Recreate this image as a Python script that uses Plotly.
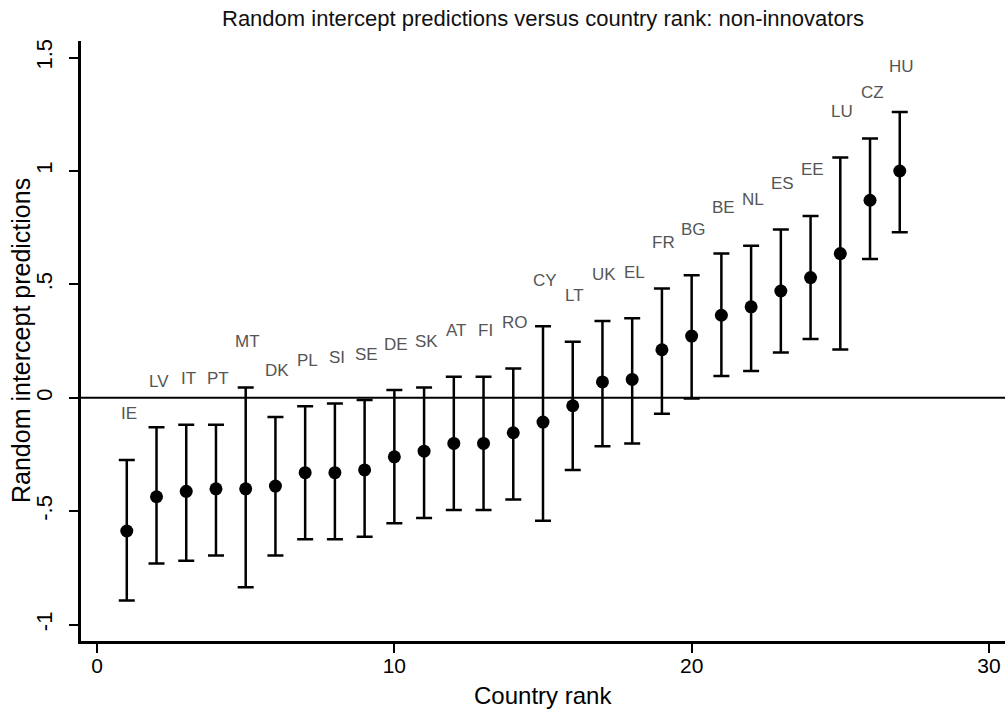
import plotly.graph_objects as go

ranks = list(range(1, 28))
countries = ["IE", "LV", "IT", "PT", "MT", "DK", "PL", "SI", "SE", "DE", "SK", "AT", "FI", "RO",
             "CY", "LT", "UK", "EL", "FR", "BG", "BE", "NL", "ES", "EE", "LU", "CZ", "HU"]
estimate = [-0.587, -0.436, -0.412, -0.401, -0.401, -0.389, -0.330, -0.330, -0.318, -0.260,
            -0.235, -0.201, -0.201, -0.154, -0.107, -0.035, 0.070, 0.081, 0.212, 0.272,
            0.364, 0.401, 0.471, 0.530, 0.636, 0.871, 1.000]
upper = [-0.274, -0.130, -0.119, -0.119, 0.046, -0.084, -0.037, -0.025, -0.010, 0.034,
         0.046, 0.093, 0.093, 0.129, 0.316, 0.247, 0.339, 0.351, 0.482, 0.540,
         0.636, 0.670, 0.742, 0.802, 1.059, 1.143, 1.260]
lower = [-0.894, -0.730, -0.718, -0.695, -0.835, -0.695, -0.624, -0.624, -0.612, -0.553,
         -0.530, -0.495, -0.495, -0.448, -0.542, -0.318, -0.213, -0.201, -0.070, -0.003,
         0.096, 0.118, 0.200, 0.259, 0.213, 0.612, 0.730]

y_tickvals = [-1, -0.5, 0, 0.5, 1, 1.5]
y_ticktext = ["-1", "-.5", "0", ".5", "1", "1.5"]
x_tickvals = [0, 10, 20, 30]

FONT = "Liberation Sans, Arial, Helvetica, sans-serif"

fig = go.Figure()
fig.add_trace(go.Scatter(
    x=ranks, y=estimate, mode="markers",
    marker=dict(color="black", size=13),
    error_y=dict(type="data", symmetric=False,
                 array=[u - e for u, e in zip(upper, estimate)],
                 arrayminus=[e - l for e, l in zip(estimate, lower)],
                 color="black", thickness=2.5, width=8),
    showlegend=False, hoverinfo="skip",
))

for r, c, u in zip(ranks, countries, upper):
    fig.add_annotation(x=r, y=u, text=c, showarrow=False, xshift=2, yshift=46,
                       yanchor="middle", font=dict(family=FONT, size=17, color="#555555"))

fig.add_shape(type="line", xref="x", yref="y", x0=-0.54, x1=30.54, y0=0, y1=0,
              line=dict(color="black", width=2))

# axis titles as annotations for exact placement
fig.add_annotation(text="Country rank", xref="paper", yref="paper", x=0.5, y=0,
                   yshift=-54, xanchor="center", yanchor="middle", showarrow=False,
                   font=dict(family=FONT, size=24, color="black"))
fig.add_annotation(text="Random intercept predictions", xref="paper", yref="paper",
                   x=0, y=0.5, xshift=-60, xanchor="center", yanchor="middle",
                   textangle=-90, showarrow=False,
                   font=dict(family=FONT, size=25, color="black"))

fig.update_layout(
    width=1007, height=711,
    margin=dict(l=81, r=2, t=41, b=70),
    paper_bgcolor="white", plot_bgcolor="white",
    font=dict(family=FONT, color="black"),
    title=dict(text="Random intercept predictions versus country rank: non-innovators",
               xref="paper", x=0.5, xanchor="center", y=0.9747, yanchor="middle",
               font=dict(family=FONT, size=22, color="#111111")),
    xaxis=dict(range=[-0.54, 30.54], tickvals=x_tickvals, ticks="outside", ticklen=9,
               tickwidth=2, tickcolor="black", showgrid=False, zeroline=False,
               showline=True, linecolor="black", linewidth=2.5, automargin=False,
               ticklabelstandoff=-5,
               tickfont=dict(size=21, family=FONT)),
    yaxis=dict(range=[-1.072, 1.573], tickvals=y_tickvals, ticktext=y_ticktext,
               tickangle=-90, ticks="outside", ticklen=9, tickwidth=2, tickcolor="black",
               showgrid=False, zeroline=False, showline=True, linecolor="black", linewidth=2.5,
               automargin=False, ticklabelstandoff=8,
               tickfont=dict(size=22, family=FONT)),
)

fig.write_html("out.html", config={"displayModeBar": False},
               post_script="document.body.style.margin='0';")
